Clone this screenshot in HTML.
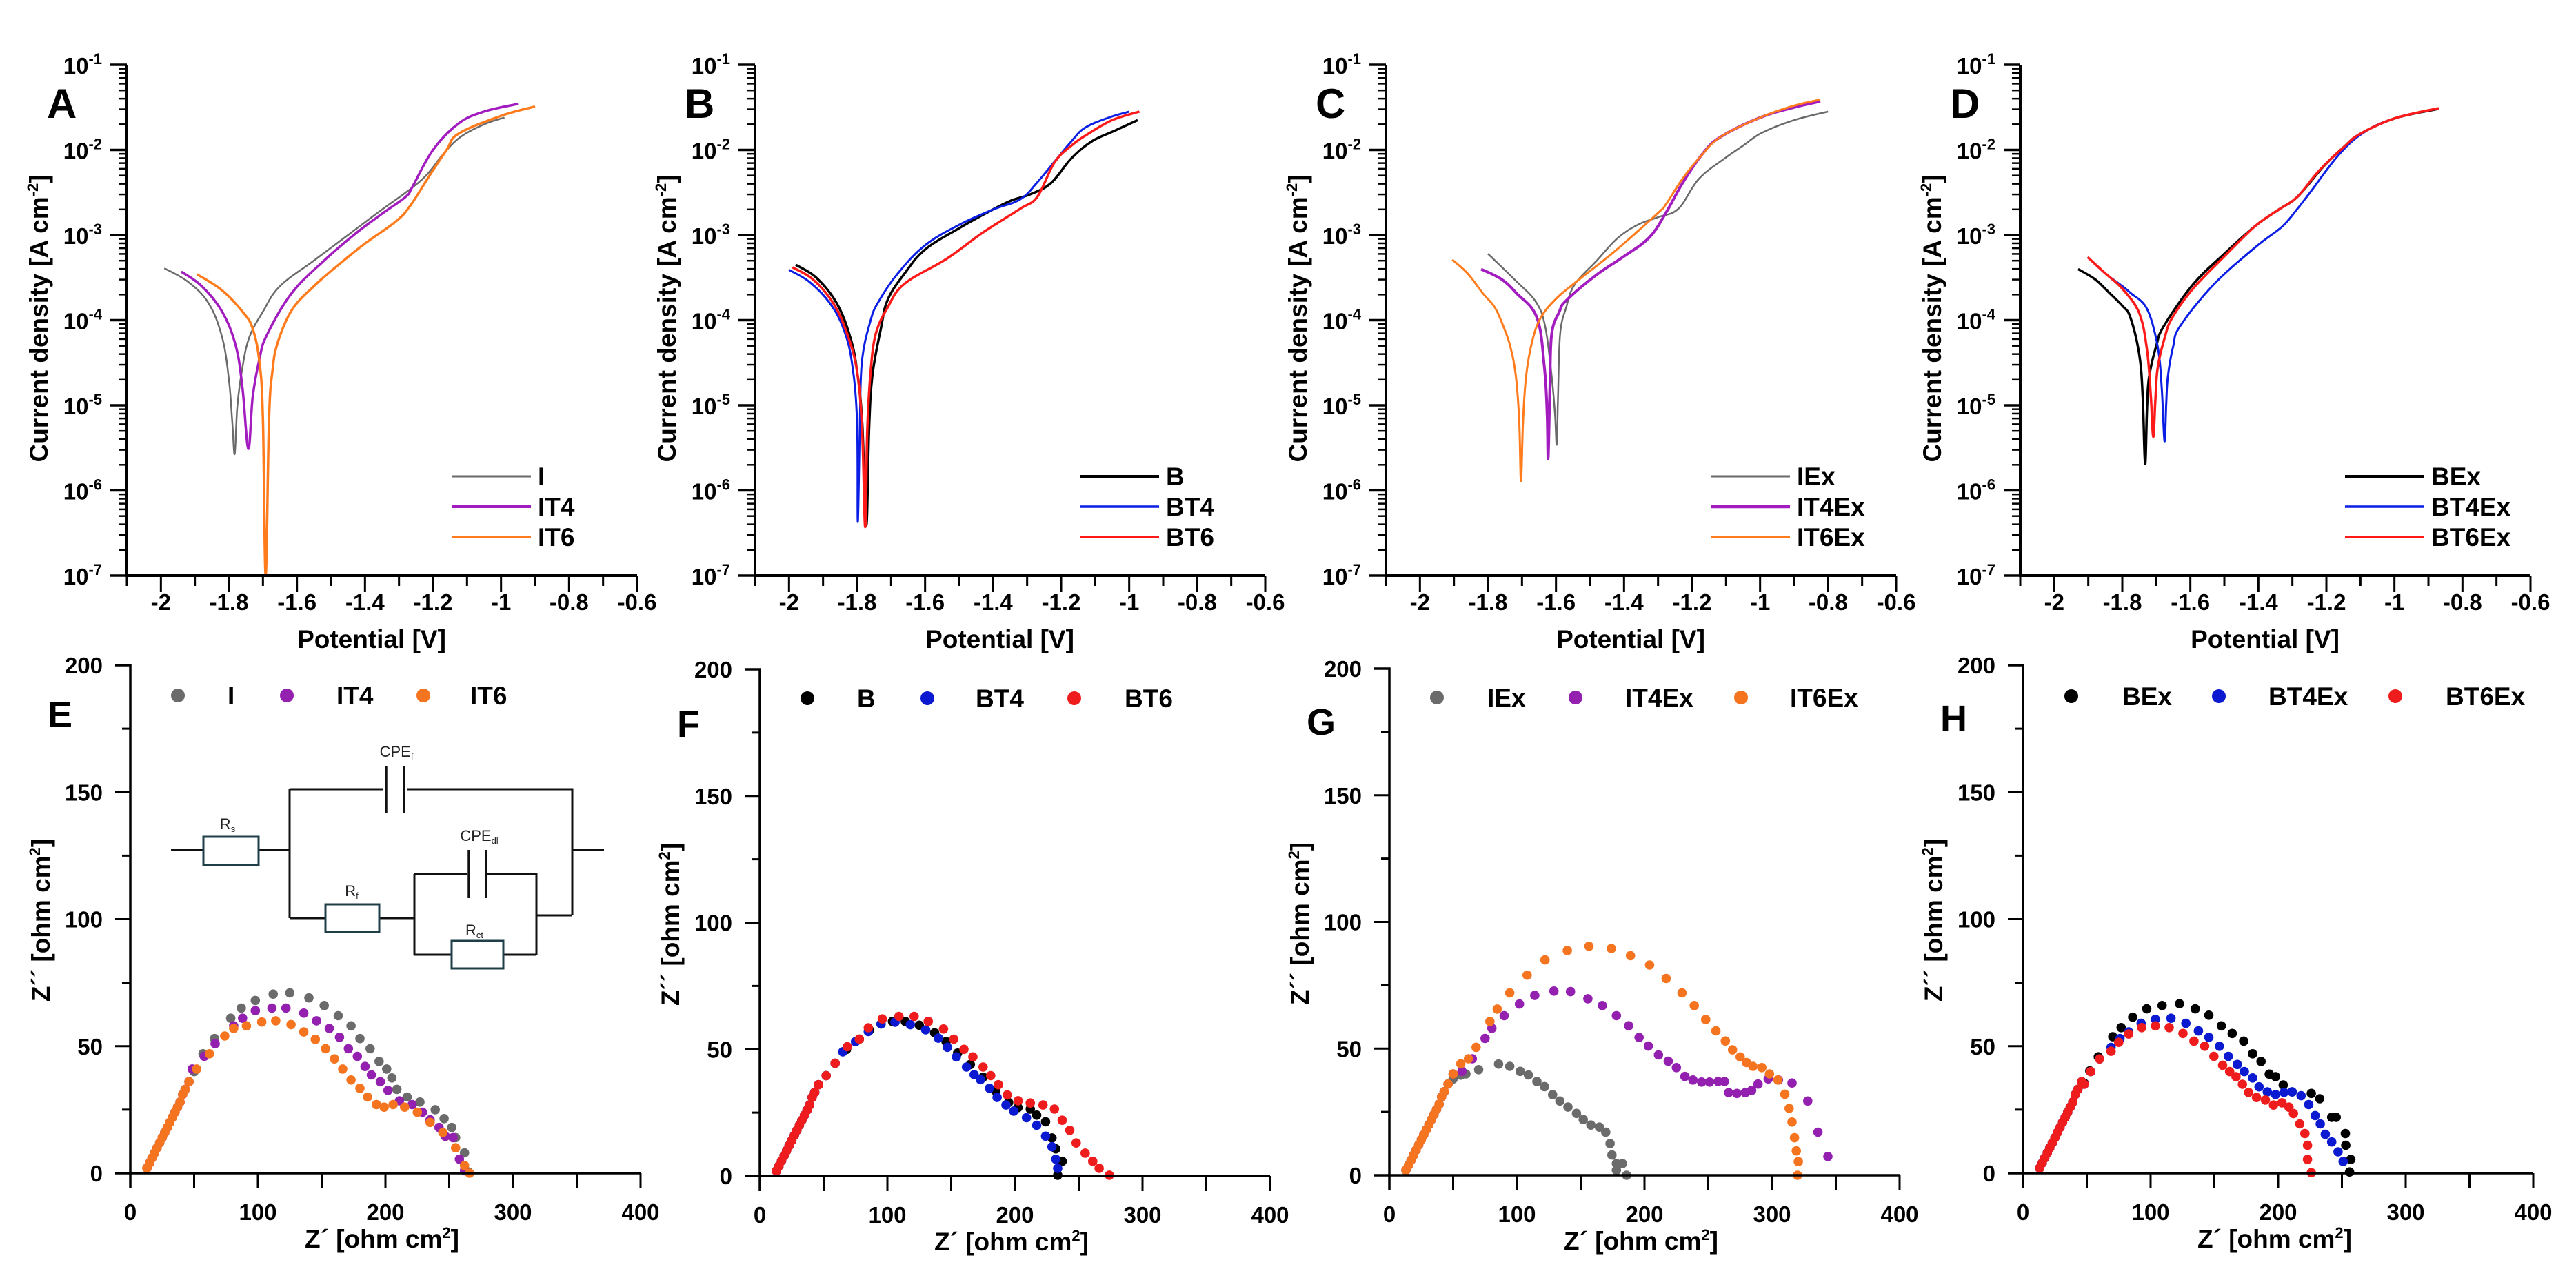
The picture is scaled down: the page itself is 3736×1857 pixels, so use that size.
<!DOCTYPE html>
<html><head><meta charset="utf-8"><style>
html,body{margin:0;padding:0;background:#fff;}
svg{display:block;font-family:"Liberation Sans",Arial,sans-serif;}
</style></head><body>
<svg id="fig" width="3736" height="1857" viewBox="0 0 3736 1857" xmlns="http://www.w3.org/2000/svg"></svg>
<script>
// ---------- Tafel data [E (V), log10 i] ----------
const tafelI = [[-1.99,-3.39],[-1.92,-3.55],[-1.86,-3.8],[-1.82,-4.2],[-1.80,-4.7],[-1.79,-5.2],[-1.783,-5.57],[-1.775,-5.0],[-1.76,-4.55],[-1.74,-4.2],[-1.70,-3.9],[-1.65,-3.6],[-1.55,-3.3],[-1.45,-3.0],[-1.35,-2.7],[-1.28,-2.5],[-1.22,-2.3],[-1.17,-2.05],[-1.12,-1.85],[-1.05,-1.7],[-0.99,-1.62]];
const tafelIT4 = [[-1.94,-3.43],[-1.88,-3.6],[-1.82,-3.9],[-1.78,-4.3],[-1.76,-4.8],[-1.743,-5.51],[-1.73,-4.9],[-1.71,-4.45],[-1.688,-4.17],[-1.615,-3.68],[-1.52,-3.3],[-1.43,-2.99],[-1.35,-2.75],[-1.28,-2.55],[-1.26,-2.43],[-1.2,-2.0],[-1.125,-1.69],[-1.05,-1.55],[-0.95,-1.46]];
const tafelIT6 = [[-1.894,-3.46],[-1.82,-3.65],[-1.76,-3.9],[-1.73,-4.1],[-1.71,-4.5],[-1.70,-5.16],[-1.692,-7],[-1.682,-5.16],[-1.672,-4.6],[-1.657,-4.27],[-1.615,-3.88],[-1.55,-3.6],[-1.49,-3.39],[-1.40,-3.1],[-1.309,-2.84],[-1.266,-2.65],[-1.21,-2.3],[-1.16,-2.0],[-1.125,-1.81],[-1.0,-1.6],[-0.9,-1.49]];
const tafelB = [[-1.98,-3.35],[-1.92,-3.5],[-1.86,-3.8],[-1.82,-4.2],[-1.80,-4.6],[-1.785,-5.2],[-1.773,-6.41],[-1.765,-5.3],[-1.755,-4.65],[-1.73,-4.1],[-1.71,-3.76],[-1.66,-3.45],[-1.60,-3.17],[-1.50,-2.92],[-1.415,-2.73],[-1.35,-2.6],[-1.29,-2.52],[-1.23,-2.39],[-1.17,-2.1],[-1.11,-1.9],[-1.04,-1.77],[-0.975,-1.65]];
const tafelBT4 = [[-2.0,-3.41],[-1.94,-3.55],[-1.88,-3.8],[-1.84,-4.1],[-1.815,-4.5],[-1.80,-5.2],[-1.798,-6.37],[-1.792,-5.3],[-1.786,-4.5],[-1.76,-4.0],[-1.735,-3.77],[-1.68,-3.45],[-1.60,-3.12],[-1.50,-2.88],[-1.40,-2.7],[-1.32,-2.58],[-1.27,-2.38],[-1.22,-2.14],[-1.17,-1.9],[-1.13,-1.74],[-1.06,-1.62],[-1.0,-1.55]];
const tafelBT6 = [[-1.99,-3.38],[-1.93,-3.52],[-1.87,-3.8],[-1.83,-4.15],[-1.80,-4.6],[-1.785,-5.3],[-1.776,-6.43],[-1.77,-5.3],[-1.76,-4.6],[-1.745,-4.16],[-1.71,-3.85],[-1.66,-3.57],[-1.537,-3.28],[-1.43,-2.97],[-1.32,-2.69],[-1.27,-2.55],[-1.22,-2.15],[-1.17,-1.95],[-1.12,-1.81],[-1.05,-1.65],[-0.97,-1.55]];
const tafelIEx = [[-1.80,-3.22],[-1.72,-3.53],[-1.66,-3.78],[-1.632,-4.07],[-1.613,-4.65],[-1.603,-5.1],[-1.598,-5.46],[-1.594,-4.9],[-1.588,-4.17],[-1.57,-3.85],[-1.545,-3.58],[-1.48,-3.3],[-1.42,-3.04],[-1.36,-2.88],[-1.30,-2.79],[-1.24,-2.69],[-1.18,-2.34],[-1.104,-2.1],[-1.05,-1.95],[-0.995,-1.8],[-0.9,-1.65],[-0.80,-1.55]];
const tafelIT4Ex = [[-1.82,-3.40],[-1.76,-3.52],[-1.717,-3.68],[-1.656,-3.97],[-1.634,-4.56],[-1.626,-5.1],[-1.623,-5.62],[-1.618,-4.8],[-1.613,-4.17],[-1.59,-3.9],[-1.57,-3.77],[-1.485,-3.48],[-1.40,-3.25],[-1.326,-3.03],[-1.277,-2.74],[-1.228,-2.39],[-1.17,-2.05],[-1.117,-1.85],[-1.0,-1.62],[-0.9,-1.5],[-0.823,-1.43]];
const tafelIT6Ex = [[-1.905,-3.29],[-1.86,-3.45],[-1.816,-3.68],[-1.78,-3.85],[-1.755,-4.07],[-1.735,-4.3],[-1.718,-4.66],[-1.708,-5.2],[-1.703,-5.89],[-1.697,-5.2],[-1.688,-4.66],[-1.67,-4.25],[-1.645,-3.97],[-1.6,-3.75],[-1.547,-3.57],[-1.424,-3.18],[-1.30,-2.74],[-1.277,-2.64],[-1.23,-2.35],[-1.18,-2.1],[-1.117,-1.85],[-1.0,-1.62],[-0.9,-1.48],[-0.823,-1.41]];
const tafelBEx = [[-1.93,-3.40],[-1.88,-3.52],[-1.838,-3.68],[-1.80,-3.83],[-1.776,-3.97],[-1.75,-4.41],[-1.74,-4.9],[-1.733,-5.69],[-1.727,-5.0],[-1.721,-4.66],[-1.70,-4.3],[-1.678,-4.07],[-1.592,-3.58],[-1.50,-3.22],[-1.408,-2.89],[-1.34,-2.7],[-1.285,-2.55],[-1.21,-2.2],[-1.15,-1.97],[-1.10,-1.81],[-1.0,-1.63],[-0.873,-1.52]];
const tafelBT4Ex = [[-1.902,-3.26],[-1.85,-3.45],[-1.80,-3.6],[-1.776,-3.68],[-1.727,-3.87],[-1.696,-4.31],[-1.684,-4.8],[-1.676,-5.42],[-1.671,-5.0],[-1.666,-4.66],[-1.65,-4.3],[-1.63,-4.07],[-1.531,-3.58],[-1.408,-3.14],[-1.33,-2.9],[-1.285,-2.69],[-1.248,-2.5],[-1.162,-2.05],[-1.088,-1.79],[-1.0,-1.63],[-0.87,-1.51]];
const tafelBT6Ex = [[-1.902,-3.26],[-1.85,-3.45],[-1.80,-3.63],[-1.75,-3.92],[-1.727,-4.36],[-1.716,-4.9],[-1.709,-5.37],[-1.703,-4.95],[-1.696,-4.56],[-1.675,-4.2],[-1.653,-3.97],[-1.592,-3.63],[-1.50,-3.25],[-1.408,-2.89],[-1.34,-2.7],[-1.285,-2.55],[-1.223,-2.25],[-1.15,-1.97],[-1.10,-1.81],[-1.0,-1.63],[-0.87,-1.51]];
const tafelXTicks = [-2,-1.8,-1.6,-1.4,-1.2,-1,-0.8,-0.6];
const tafelXTickLabels = ["-2","-1.8","-1.6","-1.4","-1.2","-1","-0.8","-0.6"];
const tafelYDecades = [-7,-6,-5,-4,-3,-2,-1];

// ---------- Nyquist data [Z' , Z''] ----------
const lowArc = [[13,2],[15,4],[17,6],[19,8],[21,10],[23,12],[25,14],[27,16],[29,18],[31,20],[33,22],[35,24],[37,26],[39,28],[41,31],[43,33],[46,36]];
const nyqI = [[50,40],[57,47],[66,53],[78.7,61],[87,65],[98,68],[112,70.5],[125,71],[140,69],[152,66],[163,62],[173,58],[180,53],[188,49],[195,44],[201,41],[205,37.5],[209,33],[217,30],[227,28],[239,25],[246,21.5],[252,18],[255,14],[262,8],[265,0.5]];
const nyqIT4 = [[48.5,41],[58,46],[66.5,51],[81,58],[88,61],[98,64],[111,65],[122,65],[136,63],[146,60],[156,57],[164,53.5],[171,49],[178,46],[184,42],[189,38.7],[196,36],[202,32.6],[211,28.5],[221,27],[229,24],[235,21],[242,18],[247,14.5],[253,14],[258,5.5],[262,1]];
const nyqIT6 = [[52,41],[62,47],[74,54],[81,57],[91,58],[103,59.5],[114,60],[126,58.5],[136,55.6],[145,52.7],[153,49],[160,45],[166.5,41],[173,36.7],[180,33.4],[186,30],[193,27],[199,26],[206,27],[215,26],[225,24],[235,20],[245,16],[255,10],[262,3],[266,0]];
const nyqB = [[52,39.6],[59,44.5],[68,50],[78,54],[86,57.5],[95,60],[104,61],[114,61],[125,59.5],[137,56.5],[146,53],[155,48.5],[165,44],[175,39],[185,33.5],[195,29],[202.4,27],[212,26.4],[217,24],[224,21.4],[229,15],[232,10.7],[237,5.8],[233.5,0.3]];
const nyqBT4 = [[52,39.6],[59,44.5],[65,49],[75,53],[85,57],[95,60],[106,60.7],[118,59.7],[130,57.7],[140,54.4],[147,50.8],[154,47],[162,43],[168,40],[173,38],[180,34.6],[186,31],[193,28],[199,25.6],[209,23],[217,20],[224,15.7],[229,11.5],[232,6.6],[233.5,3]];
const nyqBT6 = [[52,39.6],[59,44.5],[68.6,51],[78,54],[85,58.5],[96,62],[109,63],[121,63],[132,61],[144,58],[152,54],[160,50],[167,47],[175,43],[181,39.6],[187,36],[194,32],[202.5,29.7],[212,28.8],[222,28],[231,26.4],[237,22],[243,18],[248,13],[255,9],[261,5.8],[266,3],[274,0.3]];
const nyqIEx = [[50,38],[56,39.5],[60,40],[70,41.7],[85.6,43.9],[94.4,43],[102.6,41],[109,39.6],[115.7,37],[121.6,35],[128,31.8],[133.7,29.3],[140,26.9],[146.7,24.4],[152,22],[158,19.8],[164.7,19],[169.6,17],[173,12.5],[174.5,8],[178,4.6],[182.7,4.6],[178,2],[186,0]];
const nyqIT4Ex = [[50,40],[57,41],[65,46],[75,54],[80.4,58],[90,63],[102,67.6],[114,71],[129,72.7],[142,72.5],[155.6,69.7],[167,67],[178,63],[187.6,59],[195.8,54.4],[203,51],[211,47.5],[218.6,45],[225,42.5],[231.7,39],[238,37.6],[244.8,36.8],[251,36.8],[257.8,37],[262.7,37],[266,32.6],[272.5,32.3],[279,32.6],[284,33.5],[289,36],[297,38],[305,37.6],[315.7,36.4],[328,29.3],[336,17],[343.8,7.4]];
const nyqIT6Ex = [[50,40],[56,44],[62,46],[68,50.5],[78.8,60.7],[84.6,65.6],[94.4,72],[108,79],[122,85],[139.5,88.7],[156.5,90.4],[174,89.5],[189,86.7],[204,83],[217,77.7],[229.4,72],[239,67],[248,61.5],[256,57],[263.4,53],[269,49.5],[275,46.7],[280,44.5],[285,43],[292,42.5],[298,40],[304.6,37.6],[310,32],[313.4,26.4],[315.7,21],[317.6,14.8],[319,9.6],[320.6,5.4],[320,0]];
const nyqBEx = [[48,35.4],[52.4,40.3],[59,45.8],[70.4,53.7],[76.9,57.3],[86,61.4],[97,64.7],[109,66],[122.7,66.7],[135,64.7],[145.7,62.2],[155.5,58],[164,55],[173,52],[180,47],[186.6,44],[193,39],[198,38],[204,34.7],[211,32],[226,31.4],[232.6,29.3],[242,22],[245.5,22],[252.7,15.6],[253,11],[257,5.4],[256,0.5]];
const nyqBT4Ex = [[48,35],[53,40],[60,45],[69,49.5],[76,53],[82.8,55.6],[92.6,59],[103.8,60.6],[116,61],[127.7,59],[137.5,56],[145.7,53.5],[154,50],[161,46],[168,42.8],[173.5,40],[180,37.5],[185,34],[191.5,32],[198,31],[204.6,31.8],[211,32],[218,30.5],[224,27],[229,22.7],[233,19.4],[237,15.3],[242,12.3],[247,8.4],[251,4.6]];
const nyqBT6Ex = [[48,35],[53,40],[60,45],[69,48],[75,51.5],[82.8,54.8],[93,57.3],[103.8,58],[114.6,57.3],[125.4,55],[134,52],[142.4,50],[149.6,46],[156.5,42.5],[162,40],[167,38],[172,35],[176.8,31.8],[183,29.8],[190,28.8],[196.4,26.8],[203,27.7],[208.5,26],[212,23.5],[217,19.4],[221,15.6],[223,11],[223,5.4],[226,0.2]];
const nyqXTicks = [0,100,200,300,400];
const nyqYTicks = [0,50,100,150,200];

// ---------- drawing ----------
const NS = "http://www.w3.org/2000/svg";
const svg = document.getElementById('fig');
function el(tag, attrs, parent){ const e=document.createElementNS(NS,tag); for(const k in attrs) e.setAttribute(k,attrs[k]); (parent||svg).appendChild(e); return e; }
function txt(s, attrs, parent){ const e=el('text',attrs,parent); e.textContent=s; return e; }
function smoothPath(pts){
  let d='M'+pts[0][0].toFixed(1)+','+pts[0][1].toFixed(1);
  for(let i=0;i<pts.length-1;i++){
    const p0=pts[Math.max(0,i-1)], p1=pts[i], p2=pts[i+1], p3=pts[Math.min(pts.length-1,i+2)];
    const t=0.18;
    const c1=[p1[0]+(p2[0]-p0[0])*t, p1[1]+(p2[1]-p0[1])*t];
    const c2=[p2[0]-(p3[0]-p1[0])*t, p2[1]-(p3[1]-p1[1])*t];
    d+=` C${c1[0].toFixed(1)},${c1[1].toFixed(1)} ${c2[0].toFixed(1)},${c2[1].toFixed(1)} ${p2[0].toFixed(1)},${p2[1].toFixed(1)}`;
  }
  return d;
}

const TOPS = [
 {ax:184, letter:'A', names:['I','IT4','IT6'], data:[tafelI,tafelIT4,tafelIT6], cols:['#6a6a6a','#a21cbf','#ff7b1c'], w:[2.5,3.5,3.5]},
 {ax:1095, letter:'B', names:['B','BT4','BT6'], data:[tafelB,tafelBT4,tafelBT6], cols:['#000000','#0a1ee6','#ff1a1a'], w:[3.5,3,3.5]},
 {ax:2010, letter:'C', names:['IEx','IT4Ex','IT6Ex'], data:[tafelIEx,tafelIT4Ex,tafelIT6Ex], cols:['#6a6a6a','#a21cbf','#ff7b1c'], w:[2.5,4,3]},
 {ax:2930, letter:'D', names:['BEx','BT4Ex','BT6Ex'], data:[tafelBEx,tafelBT4Ex,tafelBT6Ex], cols:['#000000','#0a1ee6','#ff1a1a'], w:[3.5,3,3.5]}
];
const TOP_Y0=94, TOP_Y1=835, PW=740;

TOPS.forEach((p,pi)=>{
  const g = el('g',{});
  
  
  const xs = v => p.ax + (v-(-2.1))/1.5*PW;
  const ys = l => TOP_Y1 - (l-(-7))/6*(TOP_Y1-TOP_Y0);
  p.data.forEach((d,si)=>{
    const path = el('path',{d:smoothPath(d.map(q=>[xs(q[0]),ys(q[1])])),fill:'none',stroke:p.cols[si],'stroke-width':p.w[si],'stroke-linejoin':'round'},g);
    
    
  });
  const axes = el('path',{d:`M${p.ax},${TOP_Y0} V${TOP_Y1} H${p.ax+PW}`,fill:'none',stroke:'#000','stroke-width':4},g);
  
  
  tafelYDecades.forEach(dc=>{
    const y=ys(dc);
    el('line',{x1:p.ax-24,x2:p.ax,y1:y,y2:y,stroke:'#000','stroke-width':3.5},g);
    if(dc<-1){ for(let m=2;m<=9;m++){ const yy=ys(dc+Math.log10(m)); el('line',{x1:p.ax-12,x2:p.ax,y1:yy,y2:yy,stroke:'#000','stroke-width':2.5},g);} }
    const t=txt('',{x:p.ax-36,y:y+13,'font-size':33,'font-weight':'bold','text-anchor':'end'},g);
    
    
    const a=document.createElementNS(NS,'tspan'); a.textContent='10'; t.appendChild(a);
    const b=document.createElementNS(NS,'tspan'); b.setAttribute('dy','-14'); b.setAttribute('font-size','22'); b.textContent=String(dc); t.appendChild(b);
  });
  for(let v=-2.1; v<=-0.59; v+=0.1){
    const x=xs(v); const major = Math.abs(Math.round(v*10)%2)===0;
    el('line',{x1:x,x2:x,y1:TOP_Y1,y2:TOP_Y1+(major?24:15),stroke:'#000','stroke-width':3},g);
  }
  tafelXTicks.forEach((v,i)=>{
    const t=txt(tafelXTickLabels[i],{x:xs(v),y:885,'font-size':33,'font-weight':'bold','text-anchor':'middle'},g);
    
    
  });
  const xt=txt('Potential [V]',{x:p.ax+PW/2-15,y:940,'font-size':37,'font-weight':'bold','text-anchor':'middle'},g);
  
  
  const ytc=p.ax-115, ytcy=462;
  const yt=txt('',{x:ytc,y:ytcy,'font-size':37,'font-weight':'bold','text-anchor':'middle',transform:`rotate(-90 ${ytc} ${ytcy})`},g);
  
  
  yt.innerHTML='Current density [A cm<tspan dy="-14" font-size="22">-2</tspan><tspan dy="14">]</tspan>';
  const L=txt(p.letter,{x:p.ax-(pi===0?116:102),y:171,'font-size':60,'font-weight':'bold'},g);
  
  
  p.names.forEach((n,si)=>{
    const y=691+si*44;
    const ln=el('line',{x1:p.ax+471,x2:p.ax+586,y1:y,y2:y,stroke:p.cols[si],'stroke-width':p.w[si]+0.5},g);
    
    
    const t=txt(n,{x:p.ax+596,y:y+13,'font-size':37,'font-weight':'bold'},g);
    
    
  });
});

const BOTS = [
 {ax:189, top:965, bot:1702, letter:'E', names:['I','IT4','IT6'], data:[nyqI,nyqIT4,nyqIT6], cols:['#6b6b6b','#9420b0','#f47420'], lm:[69,227,425], lt:[141,299,493], ly:1009, ls:52},
 {ax:1102, top:971, bot:1706, letter:'F', names:['B','BT4','BT6'], data:[nyqB,nyqBT4,nyqBT6], cols:['#000000','#0b1ad0','#ee1c1c'], lm:[69,243,456], lt:[141,313,529], ly:1013, ls:60},
 {ax:2015, top:970, bot:1705, letter:'G', names:['IEx','IT4Ex','IT6Ex'], data:[nyqIEx,nyqIT4Ex,nyqIT6Ex], cols:['#6b6b6b','#9420b0','#f47420'], lm:[69,270,510], lt:[142,342,581], ly:1012, ls:58},
 {ax:2934, top:965, bot:1702, letter:'H', names:['BEx','BT4Ex','BT6Ex'], data:[nyqBEx,nyqBT4Ex,nyqBT6Ex], cols:['#000000','#0b1ad0','#ee1c1c'], lm:[70,284,540], lt:[144,356,613], ly:1010, ls:58}
];
BOTS.forEach((p,pi)=>{
  const g=el('g',{});
  
  
  const xs=v=>p.ax+v/400*PW;
  const ys=v=>p.bot-v/200*(p.bot-p.top);
  p.data.forEach((d,si)=>{
    const sg=el('g',{fill:p.cols[si]},g);
    
    
    lowArc.concat(d).forEach(q=>{
      const c=el('circle',{cx:xs(q[0]).toFixed(1),cy:ys(q[1]).toFixed(1),r:6.8},sg);
      
      
    });
  });
  const axes=el('path',{d:`M${p.ax-22},${p.top} H${p.ax} V${p.bot+22} M${p.ax-22},${p.bot} H${p.ax+PW}`,fill:'none',stroke:'#000','stroke-width':3.5},g);
  
  
  for(let v=25; v<200; v+=25){ const y=ys(v); const maj=v%50===0; el('line',{x1:p.ax-(maj?22:12),x2:p.ax,y1:y,y2:y,stroke:'#000','stroke-width':3},g);}
  for(let v=50; v<=400; v+=50){ const x=xs(v); el('line',{x1:x,x2:x,y1:p.bot,y2:p.bot+22,stroke:'#000','stroke-width':3},g);}
  nyqYTicks.forEach(v=>{
    const t=txt(String(v),{x:p.ax-40,y:ys(v)+12,'font-size':33,'font-weight':'bold','text-anchor':'end'},g);
    
    
  });
  nyqXTicks.forEach(v=>{
    const t=txt(String(v),{x:xs(v),y:p.bot+68,'font-size':33,'font-weight':'bold','text-anchor':'middle'},g);
    
    
  });
  const xt=txt('',{x:p.ax+PW/2-5,y:p.bot+108,'font-size':37,'font-weight':'bold','text-anchor':'middle'},g);
  
  
  xt.innerHTML='Z´ [ohm cm<tspan dy="-14" font-size="22">2</tspan><tspan dy="14">]</tspan>';
  const ytc=p.ax-117, ytcy=p.top+370;
  const yt=txt('',{x:ytc,y:ytcy,'font-size':37,'font-weight':'bold','text-anchor':'middle',transform:`rotate(-90 ${ytc} ${ytcy})`},g);
  
  
  yt.innerHTML='Z´´ [ohm cm<tspan dy="-14" font-size="22">2</tspan><tspan dy="14">]</tspan>';
  const L=txt(p.letter,{x:p.ax-120,y:p.top+p.ls+38,'font-size':54,'font-weight':'bold'},g);
  
  
  p.names.forEach((n,si)=>{
    const c=el('circle',{cx:p.ax+p.lm[si],cy:p.ly,r:10,fill:p.cols[si]},g);
    
    
    const t=txt(n,{x:p.ax+p.lt[si],y:p.ly+13,'font-size':37,'font-weight':'bold'},g);
    
    
  });
});

// ---------- equivalent circuit in panel E ----------
const cg=el('g',{fill:'none',stroke:'#111','stroke-width':3});


el('path',{d:'M248,1233 H295 M375,1233 H420 M420,1145 V1332 M420,1145 H556 M590,1145 H830 V1328 M830,1233 H876 M420,1332 H472 M550,1332 H601 M601,1268 V1385 M601,1268 H678 M707,1268 H778 V1385 M601,1385 H655 M730,1385 H778 M778,1328 H830'},cg);
el('path',{d:'M560,1112 V1180 M586,1112 V1180 M680,1233 V1303 M705,1233 V1303','stroke-width':3.5},cg);
const boxes=[[295,1214,80,41],[472,1312,78,40],[655,1365,75,40]];
boxes.forEach(b=>{ const r=el('rect',{x:b[0],y:b[1],width:b[2],height:b[3],stroke:'#1f3f48',fill:'#fff','stroke-width':3},cg);   });
const cl=[['CPE',575,1098,'f'],['R',330,1203,'s'],['R',510,1300,'f'],['CPE',695,1220,'dl'],['R',688,1357,'ct']];
cl.forEach(c=>{
  const t=txt('',{x:c[1],y:c[2],'font-size':22,fill:'#222','text-anchor':'middle'});
  
  
  t.innerHTML=c[0]+'<tspan font-size="13" dy="4">'+c[3]+'</tspan>';
});
</script>
</body></html>
